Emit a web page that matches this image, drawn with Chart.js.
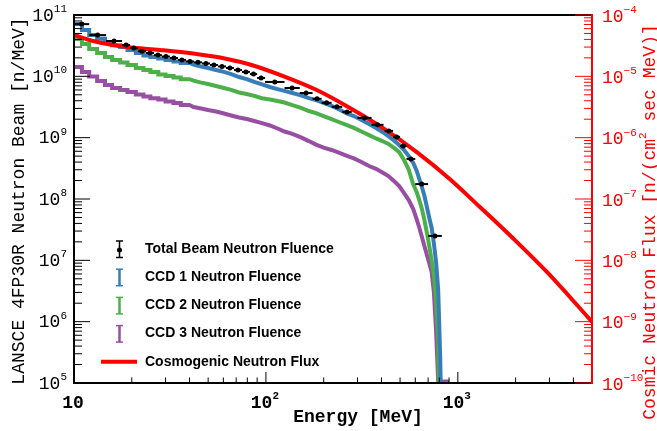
<!DOCTYPE html>
<html>
<head>
<meta charset="utf-8">
<script src="https://cdn.jsdelivr.net/npm/chart.js@4.4.1/dist/chart.umd.min.js"></script>
<style>
  html, body { margin: 0; padding: 0; background: #fff; }
  #wrap { width: 657px; height: 431px; }
</style>
</head>
<body>
<div id="wrap"><canvas id="fluence" width="657" height="431"></canvas></div>
<script>
// Bin edges of the CCD fluence histograms [MeV]
const ccdEdges = [10, 11, 12, 13.2, 14.5, 15.8, 17.4, 19, 21, 23, 25, 27.5, 30, 33, 36, 40, 44, 48, 52, 58, 63, 69, 76, 83, 91, 100,
  110, 120, 130, 145, 160, 175, 190, 210, 230, 250, 275, 300, 330, 360, 390, 420, 450, 480, 510, 540, 570, 600,
  620, 640, 660, 680, 700, 720, 740, 760, 780, 800, 820, 850, 900];

// Neutron fluence per bin [n/MeV]
const ccd1Fluence = [7.1e10, 5.7e10, 4.7e10, 4.1e10, 3.6e10, 3.2e10, 3.0e10, 2.7e10, 2.4e10, 2.19e10,
  2.07e10, 1.95e10, 1.85e10, 1.75e10, 1.65e10, 1.56e10, 1.45e10, 1.37e10, 1.27e10, 1.18e10,
  1.09e10, 9.75e9, 9.0e9, 8.1e9, 7.4e9, 6.7e9, 6.2e9, 5.8e9, 5.35e9, 4.9e9,
  4.4e9, 4.1e9, 3.7e9, 3.3e9, 2.9e9, 2.5e9, 2.25e9, 1.94e9, 1.67e9, 1.44e9,
  1.24e9, 1.06e9, 9.0e8, 7.6e8, 6.3e8, 5.0e8, 3.9e8, 2.9e8, 2.1e8, 1.57e8,
  1.12e8, 7.4e7, 4.9e7, 3.4e7, 1.9e7, 9.4e6, 3.3e6, 2.4e5, 1e3, 1e3];

const ccd2Fluence = [4.07e10, 3.37e10, 2.79e10, 2.4e10, 2.07e10, 1.85e10, 1.68e10, 1.53e10, 1.37e10, 1.27e10,
  1.18e10, 1.07e10, 1.01e10, 9.6e9, 9.0e9, 8.5e9, 7.9e9, 7.5e9, 6.95e9, 6.45e9,
  6.0e9, 5.45e9, 5.15e9, 4.8e9, 4.4e9, 4.2e9, 3.96e9, 3.74e9, 3.4e9, 3.05e9,
  2.72e9, 2.52e9, 2.25e9, 2.01e9, 1.8e9, 1.61e9, 1.44e9, 1.26e9, 1.1e9, 9.7e8,
  8.8e8, 7.9e8, 6.8e8, 5.8e8, 4.3e8, 3.0e8, 1.75e8, 1.3e8, 9.6e7, 6.9e7,
  4.5e7, 2.8e7, 1.7e7, 1.0e7, 5.8e6, 2.25e6, 5.0e5, 1e3, 1e3, 1e3];

const ccd3Fluence = [1.42e10, 1.18e10, 9.9e9, 8.4e9, 7.2e9, 6.45e9, 6.0e9, 5.55e9, 5.05e9, 4.7e9,
  4.4e9, 4.2e9, 3.9e9, 3.67e9, 3.4e9, 3.16e9, 2.99e9, 2.82e9, 2.67e9, 2.48e9,
  2.3e9, 2.13e9, 2.01e9, 1.87e9, 1.73e9, 1.58e9, 1.41e9, 1.26e9, 1.15e9, 1.01e9,
  8.8e8, 7.7e8, 6.9e8, 6.3e8, 5.7e8, 5.1e8, 4.6e8, 4.0e8, 3.45e8, 3.1e8,
  2.7e8, 2.37e8, 1.96e8, 1.63e8, 1.25e8, 9.6e7, 6.9e7, 4.7e7, 3.4e7, 2.4e7,
  1.7e7, 1.22e7, 9.0e6, 6.5e6, 3.05e6, 7.3e5, 1.06e5, 1.06e5, 1.06e5, 1.06e5];

// Total beam fluence: bin low / high edges [MeV] and value [n/MeV]
const beamLo = [10, 12, 14.7, 17.8, 19.6, 21.5, 23.7, 26.1, 28.7, 31.6, 34.8, 38.3, 42.2, 46.4, 51.1, 56.2, 61.9, 68.1, 75, 82.5,
  90, 99, 125, 150, 175, 195, 220, 250, 300, 355, 415, 460, 500, 540, 600, 700];
const beamHi = [12, 14.7, 17.8, 19.6, 21.5, 23.7, 26.1, 28.7, 31.6, 34.8, 38.3, 42.2, 46.4, 51.1, 56.2, 61.9, 68.1, 75, 82.5, 90,
  99, 125, 150, 175, 195, 220, 250, 280, 355, 410, 460, 500, 540, 600, 700, 825];
const beamFluence = [7.1e10, 4.7e10, 3.77e10, 3.24e10, 2.9e10, 2.57e10, 2.4e10, 2.22e10, 2.1e10, 1.99e10,
  1.85e10, 1.75e10, 1.69e10, 1.62e10, 1.53e10, 1.45e10, 1.37e10, 1.27e10, 1.18e10, 1.09e10,
  9.4e9, 8.1e9, 6.45e9, 5.35e9, 4.3e9, 3.7e9, 3.18e9, 2.62e9, 2.1e9, 1.62e9,
  1.29e9, 1.03e9, 7.3e8, 4.5e8, 1.75e8, 2.5e7];

// Cosmogenic (sea level) neutron flux [n/(cm2 s MeV)]
const cosmicEnergy = [10, 12.6, 18.9, 28, 41.7, 62.7, 82.5, 123, 184, 274, 406, 611, 907, 1303, 1932, 2910, 4315, 5000];
const cosmicFlux = [4.72e-5, 3.77e-5, 3.0e-5, 2.69e-5, 2.35e-5, 1.92e-5, 1.56e-5, 1.01e-5, 5.98e-6, 3.05e-6,
  1.44e-6, 5.8e-7, 2.12e-7, 7.4e-8, 2.31e-8, 6.46e-9, 1.67e-9, 9.9e-10];

// Axis decades
const xDecades = [1, 2, 3];
const leftDecades = [5, 6, 7, 8, 9, 10, 11];
const rightDecades = [-10, -9, -8, -7, -6, -5, -4];

const legendItems = [
  { label: 'Total Beam Neutron Fluence', color: '#000000', kind: 'beam' },
  { label: 'CCD 1 Neutron Fluence', color: '#377eb8', kind: 'bar' },
  { label: 'CCD 2 Neutron Fluence', color: '#4daf4a', kind: 'bar' },
  { label: 'CCD 3 Neutron Fluence', color: '#984ea3', kind: 'bar' },
  { label: 'Cosmogenic Neutron Flux', color: '#ff0000', kind: 'line' }
];

const MONO = '"Liberation Mono", "DejaVu Sans Mono", monospace';
const SANS = '"Liberation Sans", Arial, sans-serif';

// wide low-energy bins are drawn as steps, the finer ones as a line through the bin centres
const stepLimit = 40;
function histPoints(values) {
  const pts = [];
  values.forEach((v, i) => {
    const lo = ccdEdges[i], hi = ccdEdges[i + 1];
    if (lo < stepLimit) {
      pts.push({ x: lo, y: v }, { x: hi, y: v });
    } else {
      pts.push({ x: Math.sqrt(lo * hi), y: v });
    }
  });
  pts.push({ x: ccdEdges[ccdEdges.length - 1], y: values[values.length - 1] });
  return pts;
}

function line(ctx, x1, y1, x2, y2) {
  ctx.beginPath();
  ctx.moveTo(x1, y1);
  ctx.lineTo(x2, y2);
  ctx.stroke();
}

// "10" with a raised exponent
function drawPower(ctx, exp, x, y, align, weight, color) {
  ctx.font = weight + '18px ' + MONO;
  const mainW = ctx.measureText('10').width;
  const sup = exp === null ? '' : String(exp).replace('-', '\u2212');
  ctx.font = weight + '11px ' + MONO;
  const supW = sup ? ctx.measureText(sup).width : 0;
  let x0 = x;
  if (align === 'right') x0 = x - mainW - supW;
  if (align === 'center') x0 = x - (mainW + supW) / 2;
  ctx.fillStyle = color;
  ctx.textAlign = 'left';
  ctx.textBaseline = 'middle';
  ctx.font = weight + '18px ' + MONO;
  ctx.fillText('10', x0, y);
  if (sup) {
    ctx.font = weight + '11px ' + MONO;
    ctx.fillText(sup, x0 + mainW, y - 7);
  }
}

// horizontal error bars of the beam points
const beamBars = {
  id: 'beamBars',
  afterDatasetsDraw(chart) {
    const { ctx, scales } = chart;
    ctx.save();
    ctx.strokeStyle = '#000';
    ctx.lineWidth = 2;
    beamFluence.forEach((v, i) => {
      const y = scales.y.getPixelForValue(v);
      line(ctx, scales.x.getPixelForValue(beamLo[i]), y, scales.x.getPixelForValue(beamHi[i]), y);
    });
    ctx.restore();
  }
};

// ROOT style frame, inward ticks, labels, titles and legend
const frameAxes = {
  id: 'frameAxes',
  afterDraw(chart) {
    const { ctx, chartArea: a, scales } = chart;
    const sx = scales.x, sy = scales.y, sy2 = scales.y2;
    ctx.save();

    // frame
    ctx.lineWidth = 2;
    ctx.strokeStyle = '#000';
    line(ctx, a.left, a.top, a.right, a.top);
    line(ctx, a.left, a.bottom, a.right, a.bottom);
    line(ctx, a.left, a.top - 1, a.left, a.bottom + 1);

    // left ticks
    ctx.lineWidth = 1;
    leftDecades.forEach(e => {
      for (let m = 1; m <= 9; m++) {
        if (e === 11 && m > 1) break;
        const py = sy.getPixelForValue(m * Math.pow(10, e));
        line(ctx, a.left, py, a.left + (m === 1 ? 16 : 8), py);
      }
      drawPower(ctx, e, 67, sy.getPixelForValue(Math.pow(10, e)) + 1, 'right', '', '#000');
    });

    // bottom ticks
    xDecades.forEach(e => {
      for (let m = 1; m <= 9; m++) {
        const v = m * Math.pow(10, e);
        if (v <= 10 || v >= 5000) continue;
        const px = sx.getPixelForValue(v);
        line(ctx, px, a.bottom, px, a.bottom - (m === 1 ? 11 : 5.5));
      }
      drawPower(ctx, e === 1 ? null : e, sx.getPixelForValue(Math.pow(10, e)) - 1, 403, 'center', 'bold ', '#000');
    });

    // right axis, red
    ctx.strokeStyle = '#ff0000';
    rightDecades.forEach(e => {
      for (let m = 1; m <= 9; m++) {
        if (e === -4 && m > 1) break;
        const py = sy2.getPixelForValue(m * Math.pow(10, e));
        line(ctx, a.right, py, a.right - (m === 1 ? 17 : 8), py);
      }
      drawPower(ctx, e, 602, sy2.getPixelForValue(Math.pow(10, e)) + 2, 'left', '', '#ff0000');
    });
    ctx.lineWidth = 2;
    line(ctx, a.right, a.top - 1, a.right, a.bottom + 1);

    // axis titles
    ctx.textBaseline = 'middle';
    ctx.textAlign = 'center';
    ctx.fillStyle = '#000';
    ctx.font = 'bold 18px ' + MONO;
    ctx.fillText('Energy [MeV]', 358, 417);

    ctx.save();
    ctx.translate(19, 201);
    ctx.rotate(-Math.PI / 2);
    ctx.font = '18px ' + MONO;
    ctx.fillText('LANSCE 4FP30R Neutron Beam [n/MeV]', 0, 0);
    ctx.restore();

    ctx.save();
    ctx.translate(650, 222);
    ctx.rotate(-Math.PI / 2);
    ctx.fillStyle = '#ff0000';
    ctx.textAlign = 'left';
    const partA = 'Cosmic Neutron Flux [n/(cm', partB = ' sec MeV)]';
    ctx.font = '18px ' + MONO;
    const wA = ctx.measureText(partA).width, wB = ctx.measureText(partB).width;
    ctx.font = '11px ' + MONO;
    const wS = ctx.measureText('2').width;
    const tx = -(wA + wS + wB) / 2;
    ctx.font = '18px ' + MONO;
    ctx.fillText(partA, tx, 0);
    ctx.font = '11px ' + MONO;
    ctx.fillText('2', tx + wA, -7);
    ctx.font = '18px ' + MONO;
    ctx.fillText(partB, tx + wA + wS, 0);
    ctx.restore();

    // legend
    ctx.font = 'bold 14px ' + SANS;
    ctx.textAlign = 'left';
    ctx.textBaseline = 'middle';
    legendItems.forEach((item, i) => {
      const cy = 249 + i * 28.2;
      ctx.strokeStyle = item.color;
      ctx.fillStyle = item.color;
      if (item.kind === 'line') {
        ctx.lineWidth = 4;
        line(ctx, 101, cy, 137, cy);
      } else {
        const sx0 = 119.5, top = cy - 8, bot = cy + 8.5;
        ctx.lineWidth = item.kind === 'beam' ? 1.5 : 2.5;
        line(ctx, sx0, top, sx0, bot);
        ctx.lineWidth = 1.5;
        line(ctx, sx0 - 3.5, top, sx0 + 3.5, top);
        line(ctx, sx0 - 3.5, bot, sx0 + 3.5, bot);
        if (item.kind === 'beam') {
          ctx.beginPath();
          ctx.arc(sx0, cy + 1, 2.5, 0, Math.PI * 2);
          ctx.fill();
        }
      }
      ctx.fillStyle = '#000';
      ctx.fillText(item.label, 145, cy);
    });

    ctx.restore();
  }
};

const histStyle = color => ({
  borderColor: color,
  backgroundColor: color,
  borderWidth: 4,
  pointRadius: 0,
  tension: 0,
  fill: false
});

new Chart(document.getElementById('fluence'), {
  type: 'line',
  data: {
    datasets: [
      {
        label: 'Total Beam Neutron Fluence',
        data: beamFluence.map((v, i) => ({ x: Math.sqrt(beamLo[i] * beamHi[i]), y: v })),
        showLine: false,
        pointRadius: 2.5,
        pointBackgroundColor: '#000',
        pointBorderWidth: 0,
        borderColor: '#000'
      },
      {
        label: 'Cosmogenic Neutron Flux',
        data: cosmicEnergy.map((e, i) => ({ x: e, y: cosmicFlux[i] })),
        yAxisID: 'y2',
        borderColor: '#ff0000',
        borderWidth: 4,
        pointRadius: 0,
        cubicInterpolationMode: 'monotone',
        fill: false
      },
      Object.assign({ label: 'CCD 1 Neutron Fluence', data: histPoints(ccd1Fluence) }, histStyle('#377eb8')),
      Object.assign({ label: 'CCD 2 Neutron Fluence', data: histPoints(ccd2Fluence) }, histStyle('#4daf4a')),
      Object.assign({ label: 'CCD 3 Neutron Fluence', data: histPoints(ccd3Fluence) }, histStyle('#984ea3'))
    ]
  },
  options: {
    responsive: false,
    animation: false,
    devicePixelRatio: 1,
    layout: { padding: { left: 74, top: 15, right: 65, bottom: 48 } },
    plugins: {
      legend: { display: false },
      tooltip: { enabled: false }
    },
    scales: {
      x: { type: 'logarithmic', min: 10, max: 5000, display: false },
      y: { type: 'logarithmic', min: 1e5, max: 1e11, display: false },
      y2: { type: 'logarithmic', min: 1e-10, max: 1e-4, display: false, position: 'right' }
    }
  },
  plugins: [beamBars, frameAxes]
});
</script>
</body>
</html>
